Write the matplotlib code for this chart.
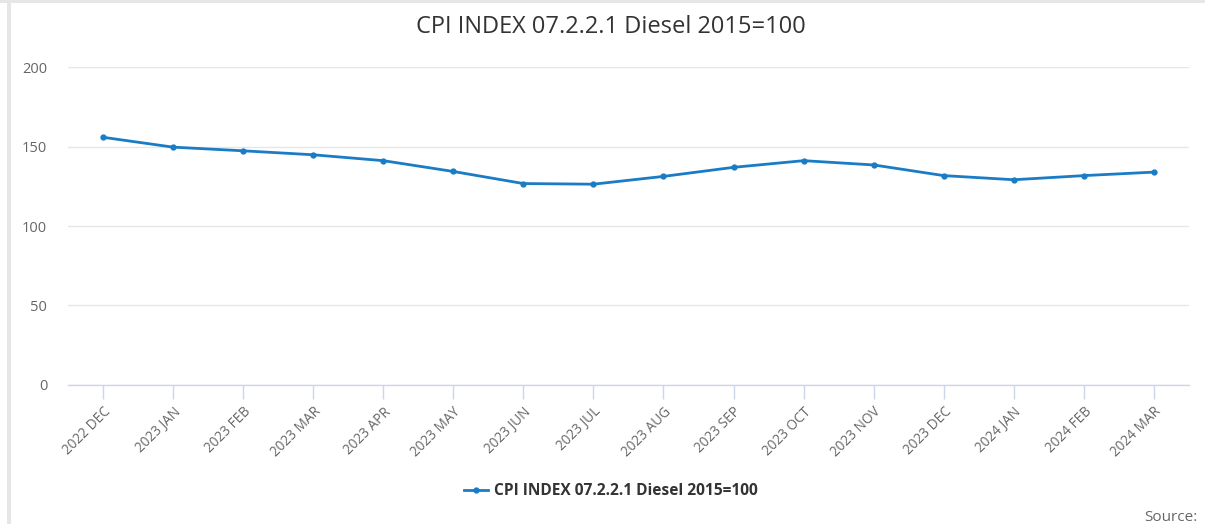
import matplotlib.pyplot as plt
from matplotlib.lines import Line2D
from matplotlib.patches import Rectangle

plt.rcParams['font.family'] = ['Open Sans', 'DejaVu Sans']

# data
months = ['2022 DEC', '2023 JAN', '2023 FEB', '2023 MAR', '2023 APR', '2023 MAY',
          '2023 JUN', '2023 JUL', '2023 AUG', '2023 SEP', '2023 OCT', '2023 NOV',
          '2023 DEC', '2024 JAN', '2024 FEB', '2024 MAR']
cpi = [155.8, 149.6, 147.3, 144.8, 141.1, 134.3,
       126.7, 126.3, 131.2, 136.9, 141.1, 138.4,
       131.7, 129.1, 131.7, 133.9]
series_name = 'CPI INDEX 07.2.2.1 Diesel 2015=100'
line_color = '#1a7cc4'

fig = plt.figure(figsize=(12.05, 5.24), dpi=100)
ax = fig.add_axes([0.0564, 0.2653, 0.9303, 0.6068])

x = list(range(len(months)))
ax.plot(x, cpi, color=line_color, lw=2, marker='o', ms=3.5, zorder=3, clip_on=False)

ax.set_xlim(-0.5, len(months) - 0.5)
ax.set_ylim(0, 200)
ax.set_yticks([0, 50, 100, 150, 200])
ax.grid(axis='y', color='#e6e6e6', lw=1)
ax.set_axisbelow(True)
for s in ['top', 'right', 'left']:
    ax.spines[s].set_visible(False)
ax.spines['bottom'].set_color('#ccd6eb')
ax.spines['bottom'].set_linewidth(1)

ax.set_xticks(x)
ax.set_xticklabels(months, rotation=45, ha='right', rotation_mode='anchor',
                   fontsize=9.8, color='#666666')
ax.tick_params(axis='x', length=10, color='#ccd6eb', width=1, pad=4)
ax.tick_params(axis='y', length=0, labelsize=10.5, labelcolor='#666666', pad=15)

fig.text(0.507, 0.948, series_name, ha='center', va='center', fontsize=17, color='#333333')

handle = Line2D([], [], color=line_color, lw=2, marker='o', ms=3.5)
fig.legend([handle], [series_name], loc='center', bbox_to_anchor=(0.507, 0.063),
           frameon=False, prop={'weight': 'bold', 'size': 11.2}, labelcolor='#333333',
           handlelength=1.5, handletextpad=0.4)

fig.text(0.9935, 0.013, 'Source:', ha='right', va='center', fontsize=11, color='#666666')

# light gray frame on top and left edges
fig.add_artist(Rectangle((0, 1 - 3 / 524), 1, 3 / 524, transform=fig.transFigure,
                         color='#e6e6e6', lw=0))
fig.add_artist(Rectangle((7 / 1205, 0), 4 / 1205, 1, transform=fig.transFigure,
                         color='#e6e6e6', lw=0))

fig.savefig('out.png', dpi=100)
